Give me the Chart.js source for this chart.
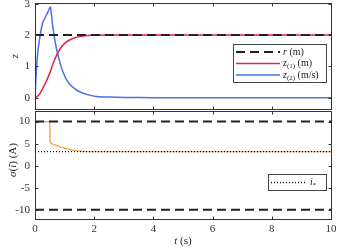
<!DOCTYPE html>
<html>
<head>
<meta charset="utf-8">
<script src="https://cdn.jsdelivr.net/npm/chart.js@4/dist/chart.umd.min.js"></script>
<style>
  html, body { margin: 0; padding: 0; background: #fff; }
  #wrap { position: relative; width: 339px; height: 249px; }
  canvas { position: absolute; left: 0; }
  #top { top: 0; }
  #bot { top: 110px; }
</style>
</head>
<body>
<div id="wrap">
  <canvas id="top" width="339" height="111"></canvas>
  <canvas id="bot" width="339" height="139"></canvas>
</div>
<script>
// data
const tLim = [0, 10];
const xTicks = [0, 2, 4, 6, 8, 10];

const tZ1 = [0, 0.05, 0.15, 0.26, 0.39, 0.52, 0.6, 0.71, 0.88, 1.05, 1.27, 1.61, 2.07, 2.5, 3, 10];
const z1 = [0, 0.02, 0.11, 0.3, 0.54, 0.84, 1.06, 1.32, 1.6, 1.77, 1.89, 1.97, 1.995, 2.0, 2.0, 2.0];
const tZ2 = [0, 0.03, 0.08, 0.15, 0.26, 0.39, 0.52, 0.6, 0.71, 0.8, 0.88, 0.96, 1.05, 1.15, 1.27, 1.43, 1.61, 1.8, 2.07, 2.5, 3, 4, 10];
const z2 = [0, 0.6, 1.3, 1.85, 2.39, 2.64, 2.89, 2.27, 1.63, 1.28, 1.0, 0.79, 0.6, 0.46, 0.34, 0.23, 0.15, 0.09, 0.04, 0.02, 0.01, 0, 0];
const rRef = 2;
const zTicks = [0, 1, 2, 3];

const tI = [0, 0.01, 0.5, 0.51, 0.6, 0.71, 0.94, 1.15, 1.39, 1.6, 2, 10];
const sigma = [6, 10, 10, 5.4, 4.9, 4.6, 4.1, 3.7, 3.4, 3.25, 3.2, 3.2];
const iStar = 3.2;
const iMax = 10;
const sTicks = [-10, -5, 0, 5, 10];

const serif = "'Liberation Serif', 'DejaVu Serif', serif";
const pts = (xs, ys) => xs.map((x, i) => ({ x: x, y: ys[i] }));
const flat = v => tLim.map(x => ({ x: x, y: v }));
const setTicks = vals => scale => { scale.ticks = vals.map(v => ({ value: v })); };

// draw text made of pieces (italic, subscript ...)
function drawRuns(ctx, x, y, runs) {
  runs.forEach(r => {
    ctx.font = (r.italic ? "italic " : "") + (r.size || 10) + "px " + serif;
    ctx.fillText(r.text, x, y + (r.dy || 0));
    x += ctx.measureText(r.text).width;
  });
  return x;
}
function runsWidth(ctx, runs) {
  let w = 0;
  runs.forEach(r => {
    ctx.font = (r.italic ? "italic " : "") + (r.size || 10) + "px " + serif;
    w += ctx.measureText(r.text).width;
  });
  return w;
}

const deco = {
  id: "deco",
  afterDraw(chart, args, opts) {
    const ctx = chart.ctx, a = chart.chartArea;
    const xs = chart.scales.x, ys = chart.scales.y;
    const L = Math.round(a.left) + 0.5, R = Math.round(a.right) + 0.5;
    const T = Math.round(a.top) + 0.5, B = Math.round(a.bottom) + 0.5;
    ctx.save();
    ctx.strokeStyle = "#333";
    ctx.lineWidth = 1;
    ctx.setLineDash([]);
    ctx.strokeRect(L, T, R - L, B - T);
    ctx.beginPath();
    xs.ticks.forEach(t => {
      const p = Math.round(xs.getPixelForValue(t.value)) + 0.5;
      ctx.moveTo(p, B); ctx.lineTo(p, B - 3);
      ctx.moveTo(p, T); ctx.lineTo(p, T + 3);
    });
    ys.ticks.forEach(t => {
      const p = Math.round(ys.getPixelForValue(t.value)) + 0.5;
      ctx.moveTo(L, p); ctx.lineTo(L + 3, p);
      ctx.moveTo(R, p); ctx.lineTo(R - 3, p);
    });
    ctx.stroke();

    // legend
    const lg = opts.legend;
    ctx.fillStyle = "#fff";
    ctx.fillRect(lg.x, lg.y, lg.w, lg.h);
    ctx.strokeStyle = "#444";
    ctx.strokeRect(lg.x + 0.5, lg.y + 0.5, lg.w, lg.h);
    lg.rows.forEach(row => {
      ctx.beginPath();
      ctx.strokeStyle = row.color;
      ctx.lineWidth = row.width;
      ctx.setLineDash(row.dash);
      ctx.moveTo(lg.x + 3, row.y);
      ctx.lineTo(lg.x + 3 + lg.sample, row.y);
      ctx.stroke();
      ctx.setLineDash([]);
      ctx.fillStyle = "#222";
      ctx.textBaseline = "middle";
      ctx.textAlign = "left";
      drawRuns(ctx, lg.x + lg.sample + 6, row.y, row.runs);
    });

    // axis titles
    ctx.fillStyle = "#222";
    ctx.textBaseline = "middle";
    ctx.textAlign = "left";
    const yt = opts.yTitle;
    ctx.save();
    ctx.translate(yt.x, yt.y);
    ctx.rotate(-Math.PI / 2);
    drawRuns(ctx, -runsWidth(ctx, yt.runs) / 2, 0, yt.runs);
    ctx.restore();
    if (opts.xTitle) {
      const xt = opts.xTitle;
      drawRuns(ctx, xt.x - runsWidth(ctx, xt.runs) / 2, xt.y, xt.runs);
    }
    ctx.restore();
  }
};

const tickFont = { family: serif, size: 11 };

function xScale(showLabels) {
  return {
    type: "linear",
    min: tLim[0], max: tLim[1],
    grid: { display: false, drawTicks: false },
    border: { display: false },
    afterBuildTicks: setTicks(xTicks),
    ticks: { display: showLabels, font: tickFont, color: "#333", padding: 4, maxRotation: 0 },
    afterFit: s => { s.height = showLabels ? 30 : 0; s.paddingLeft = 0; s.paddingRight = 0; }
  };
}
function yScale(min, max, vals) {
  return {
    min: min, max: max,
    grid: { display: false, drawTicks: false },
    border: { display: false },
    afterBuildTicks: setTicks(vals),
    ticks: { font: tickFont, color: "#333", padding: 5 },
    afterFit: s => { s.width = 35; s.paddingTop = 0; s.paddingBottom = 0; }
  };
}

Chart.defaults.animation = false;
Chart.defaults.events = [];
Chart.defaults.elements.point.radius = 0;

new Chart(document.getElementById("top").getContext("2d"), {
  type: "line",
  data: {
    datasets: [
      { data: flat(rRef), borderColor: "#222", borderWidth: 2, borderDash: [9, 5] },
      { data: pts(tZ1, z1), borderColor: "#e2234a", borderWidth: 1.5, cubicInterpolationMode: "monotone" },
      { data: pts(tZ2, z2), borderColor: "#4a70e6", borderWidth: 1.5, tension: 0.15 }
    ]
  },
  options: {
    responsive: false,
    layout: { padding: { top: 3, bottom: 2, left: 0, right: 8 } },
    scales: { x: xScale(false), y: yScale(-0.36, 3.02, zTicks) },
    plugins: {
      legend: { display: false },
      tooltip: { enabled: false },
      deco: {
        legend: {
          x: 233, y: 44, w: 93, h: 38, sample: 44,
          rows: [
            { y: 52, color: "#222", width: 2, dash: [9, 5], runs: [{ text: "r", italic: true }, { text: " (m)" }] },
            { y: 63.5, color: "#e2234a", width: 1.5, dash: [], runs: [{ text: "z", italic: true }, { text: "(1)", size: 7, dy: 3 }, { text: " (m)" }] },
            { y: 75, color: "#4a70e6", width: 1.5, dash: [], runs: [{ text: "z", italic: true }, { text: "(2)", size: 7, dy: 3 }, { text: " (m/s)" }] }
          ]
        },
        yTitle: { x: 15, y: 56, runs: [{ text: "z", italic: true, size: 11 }] }
      }
    }
  },
  plugins: [deco]
});

new Chart(document.getElementById("bot").getContext("2d"), {
  type: "line",
  data: {
    datasets: [
      { data: flat(iStar), borderColor: "#111", borderWidth: 1.3, borderDash: [1, 2] },
      { data: flat(iMax), borderColor: "#222", borderWidth: 2, borderDash: [9, 5] },
      { data: flat(-iMax), borderColor: "#222", borderWidth: 2, borderDash: [9, 5] },
      { data: pts(tI, sigma), borderColor: "#f7a440", borderWidth: 1.3, cubicInterpolationMode: "monotone" }
    ]
  },
  options: {
    responsive: false,
    layout: { padding: { top: 1, bottom: 0, left: 0, right: 8 } },
    scales: { x: xScale(true), y: yScale(-12.1, 12.4, sTicks) },
    plugins: {
      legend: { display: false },
      tooltip: { enabled: false },
      deco: {
        legend: {
          x: 268, y: 64, w: 58, h: 16, sample: 36,
          rows: [
            { y: 72.5, color: "#111", width: 1.3, dash: [1, 2], runs: [{ text: "i", italic: true }, { text: "*", size: 7, dy: 3 }] }
          ]
        },
        yTitle: { x: 13, y: 50, runs: [{ text: "σ", italic: true, size: 11 }, { text: "(", size: 11 }, { text: "ĩ", italic: true, size: 11 }, { text: ") (A)", size: 11 }] },
        xTitle: { x: 183, y: 131, runs: [{ text: "t", italic: true, size: 11 }, { text: " (s)", size: 11 }] }
      }
    }
  },
  plugins: [deco]
});
</script>
</body>
</html>
